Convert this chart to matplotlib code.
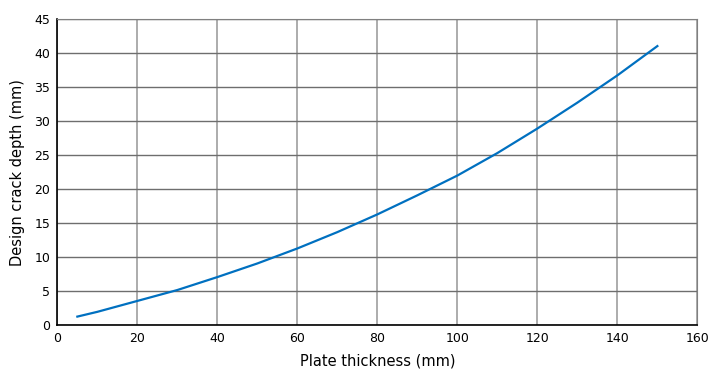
import matplotlib
matplotlib.use('Agg')
import matplotlib.pyplot as plt

# values
plate_thickness = [5, 10, 20, 30, 40, 50, 60, 70, 80, 90, 100, 110, 120, 130, 140, 150]
crack_depth = [1.3, 2.0, 3.6, 5.2, 7.1, 9.1, 11.3, 13.7, 16.3, 19.1, 22.0, 25.3, 28.9, 32.7, 36.7, 41.0]

x_ticks = [0, 20, 40, 60, 80, 100, 120, 140, 160]
y_ticks = [0, 5, 10, 15, 20, 25, 30, 35, 40, 45]

plt.rcParams['font.family'] = ['Liberation Sans Narrow', 'DejaVu Sans']

fig = plt.figure(figsize=(7.08, 3.69), dpi=100)
ax = fig.add_axes([0.081, 0.118, 0.904, 0.831])

ax.plot(plate_thickness, crack_depth, color='#0070c0', linewidth=1.6, zorder=3)

ax.set_xlim(0, 160)
ax.set_ylim(0, 45)
ax.set_xticks(x_ticks)
ax.set_yticks(y_ticks)
ax.tick_params(length=0, labelsize=9, pad=5)

ax.xaxis.grid(True, color='#a6a6a6', linewidth=1.3)
ax.yaxis.grid(True, color='#6e6e6e', linewidth=1.0)
ax.set_axisbelow(True)

for side in ['top', 'right']:
    ax.spines[side].set_color('#808080')
for side in ['left', 'bottom']:
    ax.spines[side].set_color('black')
    ax.spines[side].set_linewidth(1.2)

ax.set_xlabel('Plate thickness (mm)', fontsize=10.5, labelpad=6)
ax.set_ylabel('Design crack depth (mm)', fontsize=10.5, labelpad=7)

fig.savefig('out.png', dpi=100)
